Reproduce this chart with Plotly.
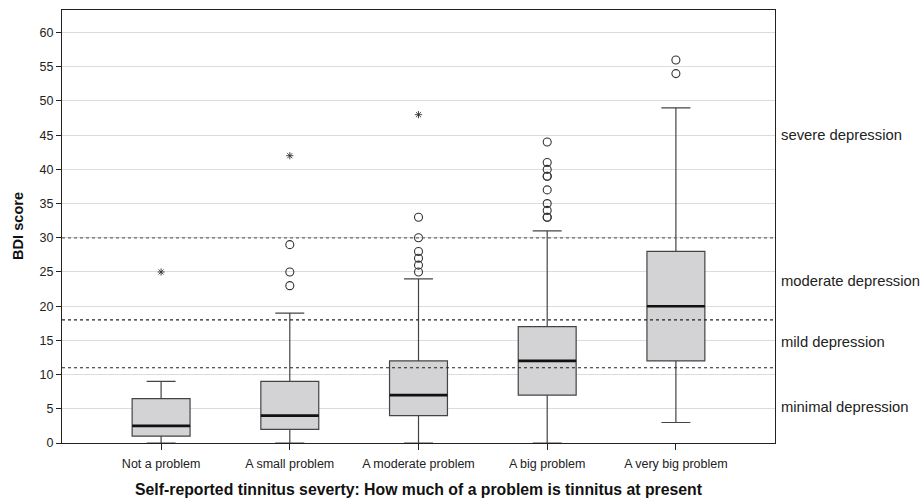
import plotly.graph_objects as go

categories = ["Not a problem", "A small problem", "A moderate problem", "A big problem", "A very big problem"]
q1 = [1, 2, 4, 7, 12]
median = [2.5, 4, 7, 12, 20]
q3 = [6.5, 9, 12, 17, 28]
lower_whisker = [0, 0, 0, 0, 3]
upper_whisker = [9, 19, 24, 31, 49]
outliers = [
    [],
    [23, 25, 29],
    [25, 26, 27, 28, 30, 33],
    [33, 33, 34, 35, 37, 39, 39, 40, 41, 44],
    [54, 56],
]
extremes = [[25], [42], [48], [], []]
cutoffs = [11, 18, 30]
cutoff_colors = ["#222222", "#222222", "#666666"]
zone_labels = ["minimal depression", "mild depression", "moderate depression", "severe depression"]
zone_label_y = [5.3, 14.7, 23.7, 45]
y_ticks = list(range(0, 61, 5))

BOX_W = 0.45
FONT = "Liberation Sans, Arial, sans-serif"

fig = go.Figure()
xs = list(range(len(categories)))

fig.add_trace(go.Box(
    x=xs, q1=q1, median=median, q3=q3,
    lowerfence=lower_whisker, upperfence=upper_whisker,
    width=BOX_W, whiskerwidth=0.5,
    fillcolor="#d3d3d5",
    line=dict(color="#444444", width=1.2),
    boxpoints=False, showlegend=False, hoverinfo="skip",
))

# thick median lines
mx, my = [], []
for i, m in enumerate(median):
    mx += [i - BOX_W / 2, i + BOX_W / 2, None]
    my += [m, m, None]
fig.add_trace(go.Scatter(x=mx, y=my, mode="lines",
                         line=dict(color="#111111", width=2.6),
                         showlegend=False, hoverinfo="skip"))

ox, oy = [], []
for i, vals in enumerate(outliers):
    ox += [i] * len(vals)
    oy += vals
fig.add_trace(go.Scatter(x=ox, y=oy, mode="markers",
                         marker=dict(symbol="circle-open", size=8,
                                     color="#333333", line=dict(width=1.1)),
                         showlegend=False, hoverinfo="skip"))

ex, ey = [], []
for i, vals in enumerate(extremes):
    ex += [i] * len(vals)
    ey += vals
fig.add_trace(go.Scatter(x=ex, y=ey, mode="markers",
                         marker=dict(symbol="asterisk-open", size=6,
                                     color="#333333", line=dict(width=0.9, color="#333333")),
                         showlegend=False, hoverinfo="skip"))

for c, col in zip(cutoffs, cutoff_colors):
    fig.add_shape(type="line", xref="paper", x0=0, x1=1, yref="y", y0=c, y1=c,
                  line=dict(color=col, width=1.2, dash="dot" if col == "#666666" else "3px,3px"),
                  layer="above")

for lab, yy in zip(zone_labels, zone_label_y):
    fig.add_annotation(x=1, xref="paper", y=yy, yref="y", text=lab,
                       showarrow=False, xanchor="left", xshift=4,
                       font=dict(family=FONT, size=14.8, color="#222222"))

fig.add_annotation(x=0.5, xref="paper", y=0, yref="paper", yshift=-46,
                   text="<b>Self-reported tinnitus severty: How much of a problem is tinnitus at present</b>",
                   showarrow=False, xanchor="center", yanchor="middle",
                   font=dict(family=FONT, size=15.8, color="#111111"))
fig.add_annotation(x=0, xref="paper", y=0.5, yref="paper", xshift=-44.5,
                   text="<b>BDI score</b>", textangle=-90,
                   showarrow=False, xanchor="center", yanchor="middle",
                   font=dict(family=FONT, size=14.6, color="#111111"))

fig.update_layout(
    width=921, height=499,
    margin=dict(l=62, r=146, t=10, b=56),
    paper_bgcolor="white", plot_bgcolor="white",
    font=dict(family=FONT, size=12.5, color="#222222"),
    xaxis=dict(range=[-0.77, 4.77], tickmode="array", tickvals=xs, ticktext=categories,
               showgrid=False, zeroline=False, showline=True, linecolor="#222222",
               linewidth=1.2, mirror=True, ticks="outside", ticklen=6,
               tickcolor="#222222", tickfont=dict(size=12.5), ticklabelstandoff=3),
    yaxis=dict(range=[0, 63.3], tickmode="array", tickvals=y_ticks,
               showgrid=True, gridcolor="#dcdcdc", gridwidth=1.2, zeroline=False,
               showline=True, linecolor="#222222", linewidth=1.2, mirror=True,
               ticks="outside", ticklen=5, tickcolor="#222222",
               tickfont=dict(size=12.5)),
)

fig.write_html("out.html", config={"displayModeBar": False},
               post_script="document.body.style.margin='0px';document.body.style.overflow='hidden';")
